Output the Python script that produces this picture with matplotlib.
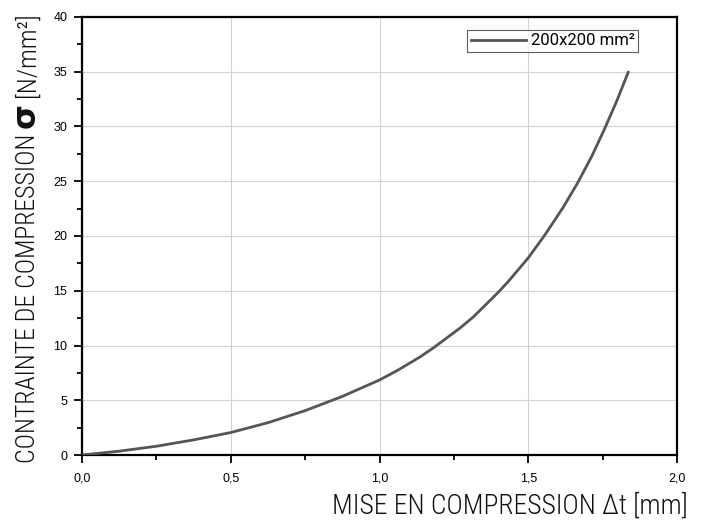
import matplotlib
matplotlib.use("Agg")
import matplotlib.pyplot as plt
from matplotlib import font_manager
from matplotlib.ticker import MultipleLocator, FuncFormatter

# values
deformation = [0.0, 0.125, 0.25, 0.375, 0.5, 0.625, 0.75, 0.875, 1.0, 1.06, 1.136, 1.181,
               1.271, 1.315, 1.399, 1.433, 1.5, 1.556, 1.617, 1.665, 1.713, 1.756, 1.797, 1.836]
contrainte = [0.0, 0.35, 0.8, 1.38, 2.05, 2.95, 4.05, 5.35, 6.85, 7.72, 8.95, 9.78,
              11.6, 12.6, 14.85, 15.85, 18.0, 20.1, 22.6, 24.8, 27.25, 29.75, 32.3, 34.95]
serie_label = "200x200 mm²"
xlabel = "MISE EN COMPRESSION Δt [mm]"
ylabel_parts = ["CONTRAINTE DE COMPRESSION", "σ", "[N/mm²]"]

# a narrow sans for the axis titles if one is installed
names = {f.name for f in font_manager.fontManager.ttflist}
lab_family = "Roboto"
for cand in ["Roboto Condensed", "Liberation Sans Narrow", "Open Sans Condensed"]:
    if cand in names:
        lab_family = cand
        break

W, H = 702, 521
fig = plt.figure(figsize=(W / 100, H / 100), dpi=100)
ax = fig.add_axes([82 / W, 1 - 455 / H, (677 - 82) / W, (455 - 17) / H])

ax.plot(deformation, contrainte, color="#555555", lw=2.0, label=serie_label,
        solid_joinstyle="round", zorder=3)

ax.set_xlim(0, 2.0)
ax.set_ylim(0, 40)
ax.xaxis.set_major_locator(MultipleLocator(0.5))
ax.xaxis.set_minor_locator(MultipleLocator(0.25))
ax.yaxis.set_major_locator(MultipleLocator(5))
ax.yaxis.set_minor_locator(MultipleLocator(2.5))
ax.xaxis.set_major_formatter(FuncFormatter(lambda v, p: f"{v:.1f}".replace(".", ",")))

ax.grid(True, which="major", color="#d2d2d2", lw=0.8, zorder=0)
ax.tick_params(which="both", direction="out", top=False, right=False, width=1.3)
ax.tick_params(which="major", length=5.5, pad=7)
ax.tick_params(which="minor", length=3.5)
ax.tick_params(axis="y", which="major", pad=5)
for t in ax.get_xticklabels() + ax.get_yticklabels():
    t.set_fontfamily("Liberation Sans")
    t.set_fontsize(9)
for sp in ax.spines.values():
    sp.set_linewidth(1.6)

leg = ax.legend(loc="upper right", bbox_to_anchor=(638 / W, 1 - 30 / H),
                bbox_transform=fig.transFigure, frameon=True, fancybox=False,
                prop={"family": "Roboto", "size": 12}, handlelength=3.3,
                borderpad=0.2, borderaxespad=0, handletextpad=0.3)
leg.get_frame().set_edgecolor("#333333")
leg.get_frame().set_linewidth(0.8)

fig.canvas.draw()
r = fig.canvas.get_renderer()


def fit(txt, target_px, horizontal=True):
    # rescale font so the text spans target_px
    bb = txt.get_window_extent(r)
    length = bb.width if horizontal else bb.height
    txt.set_fontsize(txt.get_fontsize() * target_px / length)


lab_kw = dict(family=lab_family, weight="light", color="#111111")

xl = fig.text(688 / W, 1 - 514 / H, xlabel, ha="right", va="baseline", size=18, **lab_kw)
fit(xl, 356)

# y label in three pieces so that sigma can be bold and larger
base_x = 35 / W
t1 = fig.text(base_x, 1 - 463 / H, ylabel_parts[0], rotation=90, rotation_mode="anchor",
              ha="left", va="baseline", size=18, **lab_kw)
fit(t1, 330, horizontal=False)
top = t1.get_window_extent(r).y1
t2 = fig.text(base_x, (top + 6) / H, ylabel_parts[1], rotation=90, rotation_mode="anchor",
              ha="left", va="baseline", family="DejaVu Sans", size=23, weight="bold",
              color="#111111")
top = t2.get_window_extent(r).y1
t3 = fig.text(base_x, (top + 6) / H, ylabel_parts[2], rotation=90, rotation_mode="anchor",
              ha="left", va="baseline", size=t1.get_fontsize(), **lab_kw)

fig.savefig("out.png", dpi=100)
